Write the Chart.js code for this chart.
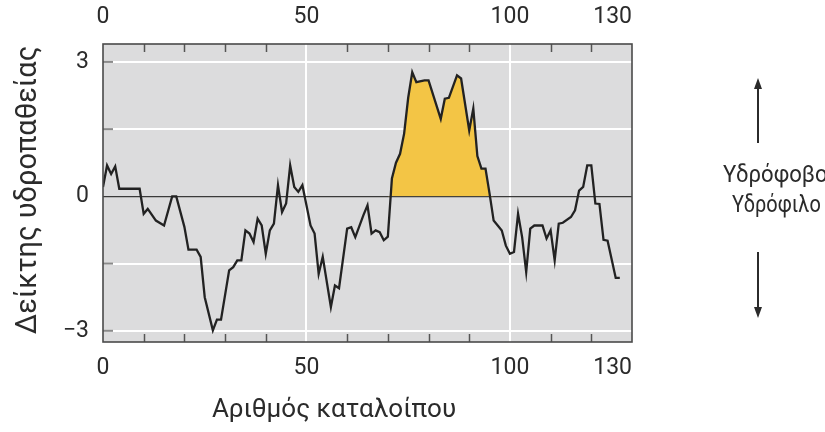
<!DOCTYPE html>
<html>
<head>
<meta charset="utf-8">
<script src="https://cdn.jsdelivr.net/npm/chart.js@4"></script>
<style>
  body { margin: 0; background: #fff; }
</style>
</head>
<body>
<canvas id="myChart" width="825" height="432"></canvas>
<script>
// data
const residues = [0, 1, 2, 3, 4, 9, 10, 11, 13, 15, 17, 18, 20, 21, 23, 24, 25, 27, 28, 29,
  31, 32, 33, 34, 35, 36, 37, 38, 39, 40, 41, 42, 43, 44, 45, 46, 47, 48, 49, 50,
  51, 52, 53, 54, 56, 57, 58, 60, 61, 62, 64, 65, 66, 67, 68, 69, 70, 71, 72, 73,
  74, 75, 76, 77, 79, 80, 83, 84, 85, 87, 88, 90, 91, 92, 93, 94, 95, 96, 97, 98,
  99, 100, 101, 102, 103, 104, 105, 106, 108, 109, 110, 111, 112, 113, 115, 116, 117, 118, 119, 120,
  121, 122, 123, 124, 126, 127];
const hydropathy = [0.21, 0.69, 0.5, 0.67, 0.17, 0.17, -0.39, -0.28, -0.54, -0.65, 0, 0, -0.68, -1.19, -1.19, -1.35, -2.25, -2.99, -2.75, -2.75,
  -1.65, -1.58, -1.43, -1.43, -0.76, -0.83, -1.02, -0.5, -0.65, -1.28, -0.76, -0.61, 0.25, -0.35, -0.16, 0.69, 0.21, 0.1, 0.25, -0.2,
  -0.65, -0.83, -1.73, -1.35, -2.47, -1.99, -2.05, -0.72, -0.69, -0.91, -0.42, -0.2, -0.83, -0.76, -0.8, -0.98, -0.9, 0.4, 0.75, 0.95,
  1.4, 2.2, 2.77, 2.55, 2.59, 2.59, 1.73, 2.18, 2.2, 2.7, 2.63, 1.47, 1.96, 0.9, 0.62, 0.62, 0.06, -0.54, -0.65, -0.76,
  -1.1, -1.28, -1.24, -0.39, -0.91, -1.69, -0.72, -0.65, -0.65, -0.94, -0.76, -1.43, -0.61, -0.59, -0.46, -0.31, 0.13, 0.21, 0.69, 0.69,
  -0.16, -0.17, -0.97, -0.99, -1.82, -1.82];

// transmembrane (hydrophobic) segment that gets the yellow fill
const segmentStart = 70;
const segmentEnd = 96;

const xTicks = [0, 50, 100, 130];
const xTickText = ["0", "50", "100", "130"];
const yTicks = [-3, -1.5, 0, 1.5, 3];
const yTickText = ["\u22123", "", "0", "", "3"];
const minorTicks = [10, 20, 30, 40, 60, 70, 80, 90, 110, 120];

const xTitle = "Αριθμός καταλοίπου";
const yTitle = "Δείκτης υδροπαθείας";
const upLabel = "Υδρόφοβο";
const downLabel = "Υδρόφιλο";

const points = residues.map((r, i) => ({ x: r, y: hydropathy[i] }));
const segment = points.filter(p => p.x >= segmentStart && p.x <= segmentEnd);

const FONT = "Roboto, 'Noto Sans', sans-serif";
const TEXT = "#2b2b2b";

function arrow(c, x, y1, y2) {
  // line from y1 to y2, head at y2
  const dir = y2 < y1 ? -1 : 1;
  c.strokeStyle = TEXT;
  c.fillStyle = TEXT;
  c.lineWidth = 2;
  c.beginPath();
  c.moveTo(x, y1);
  c.lineTo(x, y2 - dir * 8);
  c.stroke();
  c.beginPath();
  c.moveTo(x, y2);
  c.lineTo(x - 4, y2 - dir * 11);
  c.lineTo(x + 4, y2 - dir * 11);
  c.closePath();
  c.fill();
}

// narrow text, the source font is more condensed than Roboto
function narrowText(c, text, x, y, sx) {
  c.save();
  c.translate(x, y);
  c.scale(sx, 1);
  c.fillText(text, 0, 0);
  c.restore();
}

const decor = {
  id: "decor",
  beforeDraw(chart) {
    const { ctx, chartArea: a } = chart;
    ctx.save();
    ctx.fillStyle = "#dcdcdd";
    ctx.fillRect(a.left, a.top, a.right - a.left, a.bottom - a.top);
    ctx.restore();
  },
  afterDatasetsDraw(chart) {
    const { ctx, chartArea: a, scales } = chart;
    const x = scales.x, y = scales.y;
    ctx.save();

    // minor ticks, top and bottom
    ctx.strokeStyle = "#555";
    ctx.lineWidth = 1.5;
    minorTicks.forEach(v => {
      const px = Math.round(x.getPixelForValue(v)) + 0.5;
      ctx.beginPath();
      ctx.moveTo(px, a.top);
      ctx.lineTo(px, a.top + 8);
      ctx.moveTo(px, a.bottom);
      ctx.lineTo(px, a.bottom - 8);
      ctx.stroke();
    });
    // short ticks on the left edge
    ctx.strokeStyle = "#8a8a8a";
    ctx.lineWidth = 2;
    yTicks.forEach(v => {
      if (v === 0) return;
      const py = y.getPixelForValue(v);
      ctx.beginPath();
      ctx.moveTo(a.left, py);
      ctx.lineTo(a.left + 10, py);
      ctx.stroke();
    });

    // frame
    ctx.strokeStyle = "#4a4a4a";
    ctx.lineWidth = 1.6;
    ctx.strokeRect(a.left, a.top, a.right - a.left, a.bottom - a.top);

    // x tick labels, bottom and top
    ctx.fillStyle = TEXT;
    ctx.font = "23px " + FONT;
    ctx.textBaseline = "middle";
    xTicks.forEach((v, i) => {
      const px = x.getPixelForValue(v);
      ctx.textAlign = i === xTicks.length - 1 ? "right" : "center";
      ctx.fillText(xTickText[i], px, 368);
      ctx.fillText(xTickText[i], px, 17);
    });

    // axis titles
    ctx.font = "26px " + FONT;
    ctx.textAlign = "center";
    ctx.fillText(xTitle, 334, 410);
    ctx.save();
    ctx.translate(29, 190);
    ctx.rotate(-Math.PI / 2);
    ctx.font = "29px " + FONT;
    ctx.fillText(yTitle, 0, 0);
    ctx.restore();

    // hydrophobic / hydrophilic annotation
    ctx.font = "24px " + FONT;
    ctx.textAlign = "left";
    narrowText(ctx, upLabel, 723, 176, 0.92);
    narrowText(ctx, downLabel, 732, 206, 0.83);
    arrow(ctx, 758, 143, 78);
    arrow(ctx, 758, 252, 318);

    ctx.restore();
  }
};

const ctx = document.getElementById("myChart").getContext("2d");
const myChart = new Chart(ctx, {
  type: "scatter",
  data: {
    datasets: [
      {
        label: "hydropathy",
        data: points,
        showLine: true,
        borderColor: "#222222",
        borderWidth: 2.3,
        pointRadius: 0,
        tension: 0,
        fill: false,
        order: 0,
      },
      {
        label: "segment",
        data: segment,
        showLine: true,
        borderWidth: 0,
        borderColor: "rgba(0,0,0,0)",
        pointRadius: 0,
        tension: 0,
        fill: { target: { value: 0 }, above: "#f3c545", below: "rgba(0,0,0,0)" },
        order: 1,
      },
    ],
  },
  options: {
    responsive: false,
    animation: false,
    devicePixelRatio: 1,
    layout: { padding: { left: 0, right: 193, top: 0, bottom: 0 } },
    plugins: { legend: { display: false }, tooltip: { enabled: false } },
    scales: {
      x: {
        type: "linear",
        position: "bottom",
        min: 0,
        max: 130,
        afterBuildTicks: s => { s.ticks = xTicks.map(v => ({ value: v })); },
        afterFit: s => { s.height = 90; },
        ticks: { display: false },
        border: { display: false },
        grid: {
          drawTicks: false,
          lineWidth: 2,
          color: c => (c.tick && (c.tick.value === 50 || c.tick.value === 100)) ? "#ffffff" : "rgba(0,0,0,0)",
        },
      },
      xTop: {
        type: "linear",
        position: "top",
        min: 0,
        max: 130,
        afterFit: s => { s.height = 44; },
        ticks: { display: false },
        border: { display: false },
        grid: { display: false },
      },
      y: {
        min: -3.25,
        max: 3.4,
        afterBuildTicks: s => { s.ticks = yTicks.map(v => ({ value: v })); },
        afterFit: s => { s.width = 103; },
        ticks: {
          padding: 14,
          color: TEXT,
          font: { family: FONT, size: 23 },
          callback: v => yTickText[yTicks.indexOf(v)],
        },
        border: { display: false },
        grid: {
          drawTicks: false,
          lineWidth: c => (c.tick && c.tick.value === 0) ? 1.2 : 2,
          color: c => (c.tick && c.tick.value === 0) ? "#3a3a3a" : "#ffffff",
        },
      },
    },
  },
  plugins: [decor],
});
</script>
</body>
</html>
